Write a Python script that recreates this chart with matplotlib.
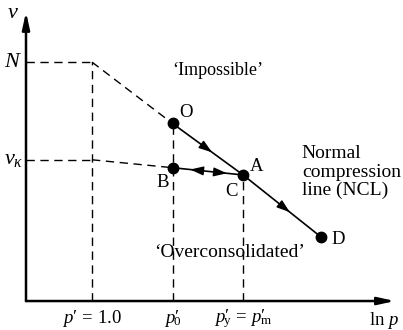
import matplotlib.pyplot as plt

plt.rcParams['font.family'] = ['Liberation Serif', 'DejaVu Serif']
plt.rcParams['mathtext.fontset'] = 'custom'
plt.rcParams['mathtext.rm'] = 'Liberation Serif'
plt.rcParams['mathtext.it'] = 'Liberation Serif:italic'
plt.rcParams['mathtext.bf'] = 'Liberation Serif:bold'

# ln p' positions (arbitrary units, origin at the v axis)
lnp_unit = 1.0      # p' = 1.0
lnp_0 = 2.22        # p'_0
lnp_y = 3.29        # p'_y = p'_m
lnp_D = 4.47

# specific volume values
v_N = 3.62
v_kappa = 2.14
v_O = 2.69
v_B = 2.02
v_A = 1.91
v_D = 0.97

ncl_x = [lnp_0, lnp_y, lnp_D]
ncl_v = [v_O, v_A, v_D]
points = {'O': (lnp_0, v_O), 'B': (lnp_0, v_B), 'A': (lnp_y, v_A), 'D': (lnp_D, v_D)}

fig = plt.figure(figsize=(4.03, 3.30), dpi=100)
ax = fig.add_axes([0, 0, 1, 1])
ax.set_xlim(-0.394, 5.712)
ax.set_ylim(-0.439, 4.561)
ax.axis('off')

dash = dict(color='black', lw=1.0, dashes=(6, 4))
solid = dict(color='black', lw=1.2)

# axes with arrows
axis_arrow = dict(arrowstyle='-|>,head_length=1.0,head_width=0.22', color='black', lw=1.8,
                  shrinkA=0, shrinkB=0)
ax.annotate('', xy=(0, 4.38), xytext=(0, 0), arrowprops=axis_arrow)
ax.annotate('', xy=(5.59, 0), xytext=(0, 0), arrowprops=axis_arrow)

# dashed construction lines
ax.plot([0, lnp_unit], [v_N, v_N], **dash)
ax.plot([0, lnp_unit], [v_kappa, v_kappa], **dash)
ax.plot([lnp_unit, lnp_unit], [0, v_N], **dash)
ax.plot([lnp_unit, lnp_0], [v_N, v_O], **dash)
ax.plot([lnp_unit, lnp_0], [v_kappa, v_B], **dash)
ax.plot([lnp_0, lnp_0], [0, v_O], **dash)
ax.plot([lnp_y, lnp_y], [0, v_A], **dash)

# NCL and unload-reload line
ax.plot(ncl_x, ncl_v, **solid)
ax.plot([lnp_0, lnp_y], [v_B, v_A], **solid)

for name, (x, y) in points.items():
    ax.plot(x, y, 'o', color='black', ms=7.5)


def head(p, q, t, back=0.1):
    # arrowhead on segment p->q at fraction t, pointing towards q
    hx = p[0] + (q[0] - p[0]) * t
    hy = p[1] + (q[1] - p[1]) * t
    tx = p[0] + (q[0] - p[0]) * (t - back)
    ty = p[1] + (q[1] - p[1]) * (t - back)
    ax.annotate('', xy=(hx, hy), xytext=(tx, ty),
                arrowprops=dict(arrowstyle='-|>,head_length=0.8,head_width=0.27', color='black', lw=1.0,
                                shrinkA=0, shrinkB=0))


head(points['O'], points['A'], 0.56)
head(points['A'], points['D'], 0.60)
head(points['A'], points['B'], 0.75)
head(points['B'], points['A'], 0.77)

fs = 13.5
ax.annotate('O', points['O'], xytext=(13, 11), textcoords='offset pixels', ha='center', va='center', fontsize=fs)
ax.annotate('B', points['B'], xytext=(-10, -15), textcoords='offset pixels', ha='center', va='center', fontsize=fs)
ax.annotate('A', points['A'], xytext=(13, 8), textcoords='offset pixels', ha='center', va='center', fontsize=fs)
ax.annotate('C', points['A'], xytext=(-12, -17), textcoords='offset pixels', ha='center', va='center', fontsize=fs)
ax.annotate('D', points['D'], xytext=(17, -2), textcoords='offset pixels', ha='center', va='center', fontsize=fs)

ax.text(-0.2, 4.35, '$v$', ha='center', va='center', fontsize=16)
ax.text(-0.2, v_N, '$N$', ha='center', va='center', fontsize=16)
ax.text(-0.18, v_kappa, r'$v_\kappa$', ha='center', va='center', fontsize=16)

pr = '\\mathrm{\u2032}'
ax.text(lnp_unit, -0.27, '$p' + pr + r'\,=\,1.0$', ha='center', va='center', fontsize=fs)
ax.text(lnp_0, -0.27, '$p' + pr + r'_{\!\!\!0}$', ha='center', va='center', fontsize=fs)
ax.text(lnp_y, -0.27, '$p' + pr + r'_{\!\!\!\mathrm{y}}\,=\,p' + pr + r'_{\!\!\!\mathrm{m}}$',
        ha='center', va='center', fontsize=fs)
ax.text(5.42, -0.3, r'$\ln\,p$', ha='center', va='center', fontsize=fs)

ax.text(2.91, 3.5, '\u2018Impossible\u2019', ha='center', va='center', fontsize=13)
ax.text(3.08, 0.73, '\u2018Overconsolidated\u2019', ha='center', va='center', fontsize=14)
ax.text(4.18, 2.36, 'Normal\ncompression\nline (NCL)', ha='left', va='top', fontsize=14,
        linespacing=1.1)

fig.savefig('out.png', dpi=100)
